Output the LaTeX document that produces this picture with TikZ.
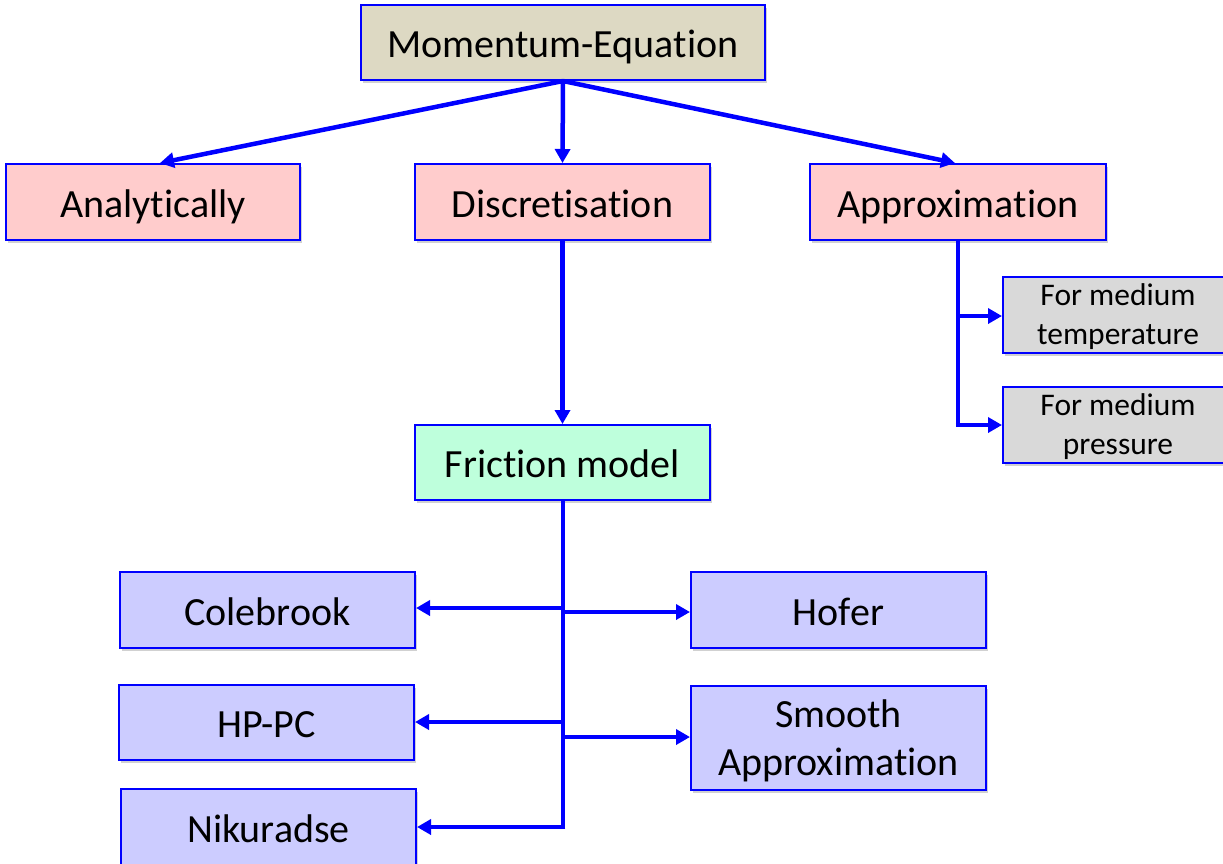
\documentclass[tikz,border=0pt]{standalone}
\usepackage{fontspec}
\setmainfont{Carlito}[Ligatures=NoCommon]
\usetikzlibrary{arrows.meta,shadows}
\definecolor{lnblue}{RGB}{0,0,255}
\definecolor{tanfill}{RGB}{221,217,195}
\definecolor{pinkfill}{RGB}{255,204,204}
\definecolor{grayfill}{RGB}{217,217,217}
\definecolor{mintfill}{RGB}{190,255,220}
\definecolor{lavfill}{RGB}{204,204,255}
\tikzset{
  box/.style={draw=lnblue, line width=2pt, inner sep=0pt, align=center,
    font=\fontsize{40}{48}\selectfont,
    execute at begin node={\rule{0pt}{40.8pt}},
    execute at end node={\rule[-10pt]{0pt}{0pt}},
    drop shadow={shadow xshift=2pt, shadow yshift=-3pt, fill=black!40, opacity=0.45}},
  twoline/.style={draw=lnblue, line width=2pt, inner sep=0pt, align=center,
    drop shadow={shadow xshift=2pt, shadow yshift=-3pt, fill=black!40, opacity=0.45}},
  smallbox/.style={twoline, font=\fontsize{31.5}{39.5}\selectfont,
    text height=66pt, text depth=7pt},
  conn/.style={draw=lnblue, line width=4.5pt, -{Triangle[length=14pt,width=15pt]}},
  trunk/.style={draw=lnblue, line width=4.5pt}
}
\begin{document}
\begin{tikzpicture}[x=1pt,y=-1pt]
\useasboundingbox (0,0) rectangle (1223,863);
% nodes
\node[box, fill=tanfill, minimum width=404pt, minimum height=75pt] (mom) at (563,42.5) {Momentum-Equation};
\node[box, fill=pinkfill, minimum width=294pt, minimum height=76pt] (ana) at (153,202) {Analytically};
\node[box, fill=pinkfill, minimum width=295pt, minimum height=76pt] (dis) at (562.5,202) {Discretisation};
\node[box, fill=pinkfill, minimum width=296pt, minimum height=76pt] (app) at (958,202) {Approximation};
\node[smallbox, fill=grayfill, minimum width=230pt, minimum height=76pt] (temp) at (1118,315) {For medium\\temperature};
\node[smallbox, fill=grayfill, minimum width=230pt, minimum height=76pt] (pres) at (1118,425) {For medium\\pressure};
\node[box, fill=mintfill, minimum width=295pt, minimum height=75pt] (fric) at (562.5,462.5) {Friction model};
\node[box, fill=lavfill, minimum width=295pt, minimum height=76pt] (cole) at (267.5,610) {Colebrook};
\node[box, fill=lavfill, minimum width=295pt, minimum height=76pt] (hof) at (838.5,610) {Hofer};
\node[box, fill=lavfill, minimum width=295pt, minimum height=75pt] (hppc) at (266.5,722.5) {HP-PC};
\node[twoline, font=\fontsize{40}{48}\selectfont, text height=82pt, text depth=8pt, fill=lavfill, minimum width=295pt, minimum height=104pt] (smo) at (838.5,738) {Smooth\\Approximation};
\node[box, fill=lavfill, minimum width=295pt, minimum height=76pt] (nik) at (268.5,827) {Nikuradse};
% top connectors
\coordinate (mb) at (563,81);
\draw[conn] (mb) -- (160,163);
\draw[conn] (mb) -- (dis.north);
\draw[conn] (mb) -- (955,163);
\draw[conn] (dis.south) -- (fric.north);
% approximation branch
\coordinate (ab) at (958,240);
\coordinate (a1) at (958,316);
\coordinate (a2) at (958,425);
\draw[trunk] (ab) -- (a2);
\draw[conn] (a1) -- (temp.west |- a1);
\draw[conn] ([xshift=-2.25pt]a2) -- (pres.west |- a2);
% friction branch
\coordinate (fb) at (563,500);
\coordinate (f1) at (563,608);
\coordinate (f2) at (563,612);
\coordinate (f3) at (563,722);
\coordinate (f4) at (563,737);
\coordinate (f5) at (563,827);
\draw[trunk] (fb) -- (f5);
\draw[conn] (f1) -- (cole.east |- f1);
\draw[conn] (f2) -- (hof.west |- f2);
\draw[conn] (f3) -- (hppc.east |- f3);
\draw[conn] (f4) -- (smo.west |- f4);
\draw[conn] ([xshift=2.25pt]f5) -- (nik.east |- f5);
\end{tikzpicture}
\end{document}
